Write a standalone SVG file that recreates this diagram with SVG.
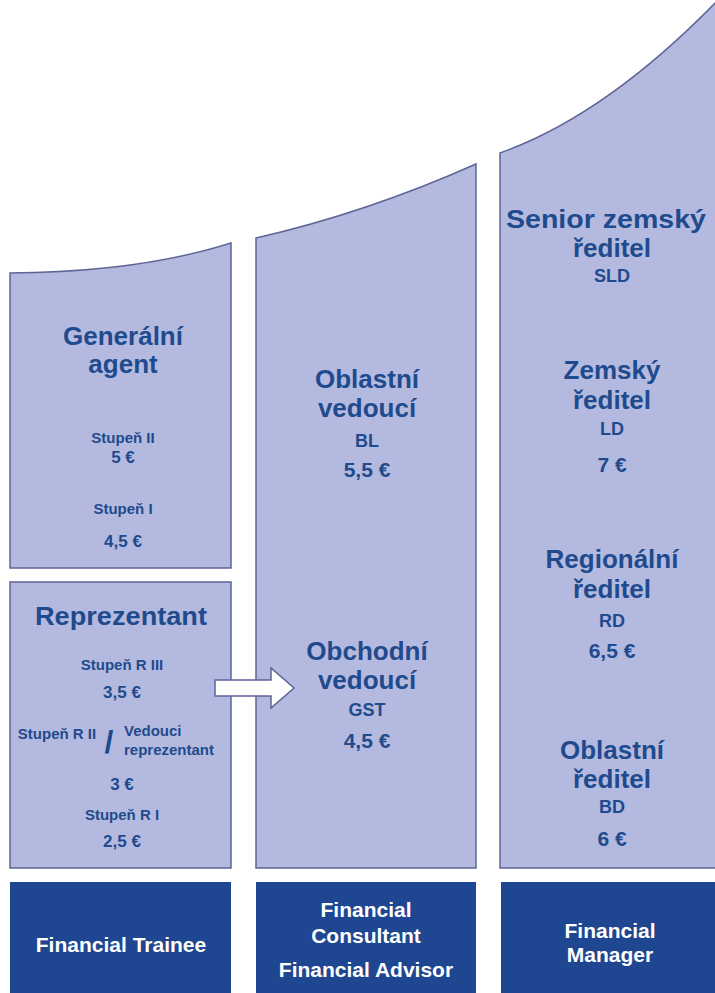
<svg xmlns="http://www.w3.org/2000/svg" width="715" height="993" viewBox="0 0 715 993">
<style>
.col{fill:#b4badf;stroke:#5d6596;stroke-width:1.5}
.box{fill:#1f4690}
.t{font-family:"Liberation Sans",Arial,sans-serif;font-weight:bold;fill:#1f4a8d;text-anchor:middle}
.h{font-size:26px}
.hr{font-size:26px}
.s{font-size:15px}
.m{font-size:17px}
.c{font-size:18px}
.e{font-size:21px}
.w{font-family:"Liberation Sans",Arial,sans-serif;font-weight:bold;fill:#ffffff;text-anchor:middle;font-size:21px}
</style>
<rect width="715" height="993" fill="#ffffff"/>
<g id="generalni-agent">
<path class="col" d="M10,273 Q140,272 231,243 L231,568 L10,568 Z"/>
<text class="t h" x="123" y="345">Generální</text>
<text class="t h" x="123" y="373">agent</text>
<text class="t s" x="123" y="443">Stupeň II</text>
<text class="t m" x="123" y="463">5 €</text>
<text class="t s" x="123" y="514">Stupeň I</text>
<text class="t m" x="123" y="547">4,5 €</text>
</g>
<g id="reprezentant">
<rect class="col" x="10" y="582" width="221" height="286"/>
<text class="t h" x="121" y="625" textLength="172" lengthAdjust="spacingAndGlyphs">Reprezentant</text>
<text class="t s" x="122" y="670">Stupeň R III</text>
<text class="t m" x="122" y="698">3,5 €</text>
<text class="t s" x="57" y="739">Stupeň R II</text>
<text class="t" x="109" y="753" style="font-size:32px">/</text>
<text class="t s" x="124" y="736" style="text-anchor:start">Vedouci</text>
<text class="t s" x="124" y="755" style="text-anchor:start">reprezentant</text>
<text class="t m" x="122" y="790">3 €</text>
<text class="t s" x="122" y="820">Stupeň R I</text>
<text class="t m" x="122" y="847">2,5 €</text>
</g>
<g id="consultant-column">
<path class="col" d="M256,238 Q366,213 476,164 L476,868 L256,868 Z"/>
<text class="t hr" x="367" y="388">Oblastní</text>
<text class="t hr" x="367" y="417">vedoucí</text>
<text class="t c" x="367" y="447">BL</text>
<text class="t e" x="367" y="477">5,5 €</text>
<text class="t hr" x="367" y="660">Obchodní</text>
<text class="t hr" x="367" y="689">vedoucí</text>
<text class="t c" x="367" y="716">GST</text>
<text class="t e" x="367" y="748">4,5 €</text>
</g>
<g id="manager-column">
<path class="col" d="M500,153 Q607,115 720,-2 L720,868 L500,868 Z"/>
<text class="t hr" x="606" y="228" textLength="200" lengthAdjust="spacingAndGlyphs">Senior zemský</text>
<text class="t hr" x="612" y="257">ředitel</text>
<text class="t c" x="612" y="282">SLD</text>
<text class="t hr" x="612" y="379">Zemský</text>
<text class="t hr" x="612" y="409">ředitel</text>
<text class="t c" x="612" y="435">LD</text>
<text class="t e" x="612" y="472">7 €</text>
<text class="t hr" x="612" y="568">Regionální</text>
<text class="t hr" x="612" y="598">ředitel</text>
<text class="t c" x="612" y="627">RD</text>
<text class="t e" x="612" y="658">6,5 €</text>
<text class="t hr" x="612" y="759">Oblastní</text>
<text class="t hr" x="612" y="788">ředitel</text>
<text class="t c" x="612" y="813">BD</text>
<text class="t e" x="612" y="846">6 €</text>
</g>
<g id="financial-trainee">
<rect class="box" x="10" y="882" width="221" height="111"/>
<text class="w" x="121" y="952">Financial Trainee</text>
</g>
<g id="financial-consultant">
<rect class="box" x="256" y="882" width="220" height="111"/>
<text class="w" x="366" y="917">Financial</text>
<text class="w" x="366" y="943">Consultant</text>
<text class="w" x="366" y="977">Financial Advisor</text>
</g>
<g id="financial-manager">
<rect class="box" x="501" y="882" width="214" height="111"/>
<text class="w" x="610" y="938">Financial</text>
<text class="w" x="610" y="962">Manager</text>
</g>
<g id="connectors">
<path d="M215,680 L271,680 L271,668 L294,688 L271,708 L271,696 L215,696 Z" fill="#ffffff" stroke="#5d6596" stroke-width="1.5"/>
</g>
</svg>
